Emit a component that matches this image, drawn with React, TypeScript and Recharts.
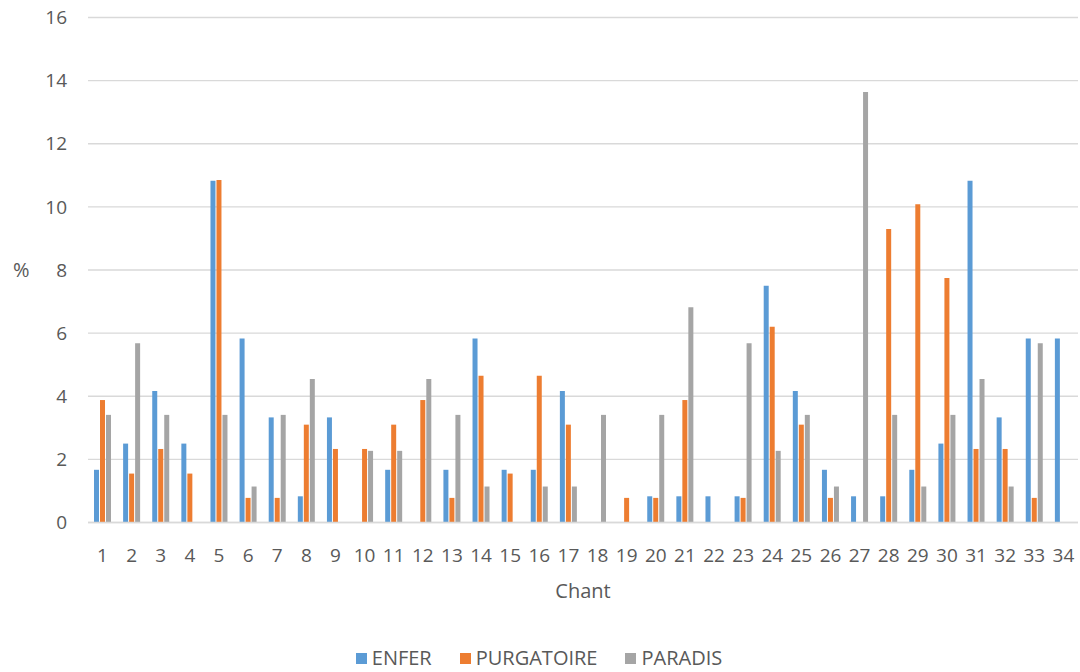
import { BarChart, Bar, XAxis, YAxis, CartesianGrid, Legend } from "recharts"

const chants = Array.from({ length: 34 }, (_, i) => String(i + 1))

const enfer = [
  1.67, 2.5, 4.17, 2.5, 10.83, 5.83, 3.33, 0.83, 3.33, 0, 1.67, 0, 1.67, 5.83, 1.67, 1.67, 4.17,
  0, 0, 0.83, 0.83, 0.83, 0.83, 7.5, 4.17, 1.67, 0.83, 0.83, 1.67, 2.5, 10.83, 3.33, 5.83, 5.83,
]
const purgatoire = [
  3.88, 1.55, 2.33, 1.55, 10.85, 0.78, 0.78, 3.1, 2.33, 2.33, 3.1, 3.88, 0.78, 4.65, 1.55, 4.65, 3.1,
  0, 0.78, 0.78, 3.88, 0, 0.78, 6.2, 3.1, 0.78, 0, 9.3, 10.08, 7.75, 2.33, 2.33, 0.78, 0,
]
const paradis = [
  3.41, 5.68, 3.41, 0, 3.41, 1.14, 3.41, 4.55, 0, 2.27, 2.27, 4.55, 3.41, 1.14, 0, 1.14, 1.14,
  3.41, 0, 3.41, 6.82, 0, 5.68, 2.27, 3.41, 1.14, 13.64, 3.41, 1.14, 3.41, 4.55, 1.14, 5.68, 0,
]
const yTicks = [0, 2, 4, 6, 8, 10, 12, 14, 16]

const series = [
  { key: "ENFER", color: "#5B9BD5" },
  { key: "PURGATOIRE", color: "#ED7D31" },
  { key: "PARADIS", color: "#A5A5A5" },
]

const data = chants.map((c, i) => ({
  chant: c,
  ENFER: enfer[i],
  PURGATOIRE: purgatoire[i],
  PARADIS: paradis[i],
}))

const font = "'Open Sans', sans-serif"
const textColor = "#595959"

function LegendContent() {
  return (
    <div
      style={{
        height: 40,
        display: "flex",
        justifyContent: "center",
        alignItems: "center",
        paddingTop: 12,
        boxSizing: "border-box",
        fontFamily: font,
        fontSize: 20,
        lineHeight: "24px",
        color: textColor,
      }}
    >
      {series.map((s, i) => (
        <div key={s.key} style={{ display: "flex", alignItems: "center", marginLeft: i ? 28 : 0 }}>
          <span style={{ width: 11, height: 11, background: s.color, marginRight: 5, display: "inline-block" }} />
          <span>{s.key}</span>
        </div>
      ))}
    </div>
  )
}

export default function App() {
  return (
    <div style={{ position: "absolute", left: 0, top: 0, background: "#fff" }}>
      <BarChart
        width={1080}
        height={672}
        data={data}
        margin={{ top: 17.5, right: 2, left: 0, bottom: 0 }}
        barSize={5}
        barGap={1}
      >
        <CartesianGrid vertical={false} stroke="#D9D9D9" strokeWidth={1.3} />
        <XAxis
          dataKey="chant"
          height={109.5}
          tickLine={false}
          tickSize={0}
          tickMargin={26}
          axisLine={{ stroke: "#D9D9D9", strokeWidth: 1.3 }}
          interval={0}
          tick={{ fill: textColor, fontSize: 19, fontFamily: font }}
          label={{
            value: "Chant",
            position: "insideBottom",
            offset: 34,
            fill: textColor,
            fontSize: 20,
            fontFamily: font,
          }}
        />
        <YAxis
          width={88}
          domain={[0, 16]}
          ticks={yTicks}
          axisLine={false}
          tickLine={false}
          tickSize={0}
          tickMargin={21}
          tick={{ fill: textColor, fontSize: 19, fontFamily: font }}
          label={{
            value: "%",
            position: "insideLeft",
            offset: 13,
            fill: textColor,
            fontSize: 20,
            fontFamily: font,
          }}
        />
        <Legend verticalAlign="bottom" height={40} content={() => <LegendContent />} />
        {series.map((s) => (
          <Bar key={s.key} dataKey={s.key} fill={s.color} isAnimationActive={false} />
        ))}
      </BarChart>
    </div>
  )
}
